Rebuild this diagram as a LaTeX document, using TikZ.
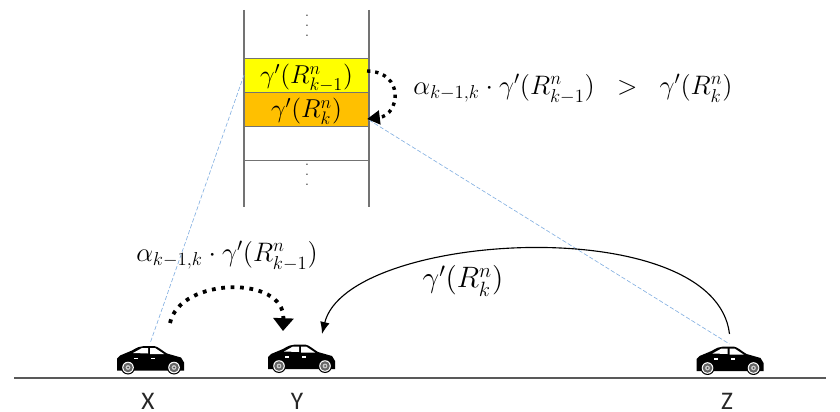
\documentclass[tikz,border=0pt]{standalone}
\usepackage{amsmath,amssymb}
\usepackage{xcolor}
\usepackage{fontspec}
\setsansfont{Carlito}
\usetikzlibrary{positioning,arrows.meta,calc}
\DeclareFontFamily{OML}{cmm}{\skewchar\font'177}
\DeclareFontShape{OML}{cmm}{m}{it}{<->cmmi12}{}
\DeclareFontFamily{OMS}{cmsy}{\skewchar\font'60}
\DeclareFontShape{OMS}{cmsy}{m}{n}{<->cmsy10}{}
\DeclareFontFamily{OT1}{cmr}{\hyphenchar\font45}
\DeclareFontShape{OT1}{cmr}{m}{n}{<->cmr12}{}
\definecolor{rowyellow}{RGB}{255,255,0}
\definecolor{roworange}{RGB}{255,192,0}
\definecolor{linkblue}{RGB}{130,175,225}
\tikzset{
rowbox/.style={
draw=black!55,
minimum width=3.125cm,
minimum height=0.85cm,
text height=0.585cm,
text depth=0.165cm,
inner sep=0pt,
outer sep=0pt,
font=\fontsize{18.4}{20}\selectfont
},
railline/.style={
draw=black!55,
line width=0.8pt
},
stackdots/.style={
font=\fontsize{10}{7.1}\selectfont,
align=center,
inner sep=0pt,
text=black!80
},
carbox/.style={
minimum width=1.675cm,
minimum height=0.75cm,
inner sep=0pt,
outer sep=0pt
},
formula/.style={
font=\fontsize{19}{22}\selectfont,
inner sep=0pt
},
carlabel/.style={
font=\sffamily\fontsize{18}{20}\selectfont,
inner sep=0pt,
text=black!85
},
link/.style={
draw=linkblue,
dash pattern=on 3pt off 1.5pt,
line width=0.45pt
},
hoparrow/.style={
-{Triangle[length=3.2mm,width=5mm]},
line width=2.7pt,
dash pattern=on 2.7pt off 4pt
},
stackarrow/.style={
-{Triangle[length=3.2mm,width=3.4mm]},
line width=2.4pt,
dash pattern=on 2.4pt off 3.4pt
},
farrow/.style={
-{Latex[length=3mm,width=2.4mm]},
line width=0.8pt
},
car/.pic={
\fill[black] (-18,-8) .. controls (-13,-11) and (-10,-12.5) .. (-6,-12.5) -- (4,-12.5)
.. controls (8,-12) and (12,-8) .. (17,-5) -- (31,-1) -- (34,4) -- (34,12)
-- (-33,12) -- (-33,0) -- (-30,-3) -- cycle;
\fill[white] (-17,-5.5) -- (-8,-10.5) -- (-2,-10.5) -- (-2,-5) -- cycle;
\fill[white] (0,-10.5) -- (5,-10.5) -- (14,-4.5) -- (0,-4.5) -- cycle;
\fill[white] (-16,-1) rectangle (-12,0.5);
\fill[white] (1,-1) rectangle (5,0.5);
\foreach \w in {-22,24}{
\fill[black] (\w,9) circle (7);
\fill[white] (\w,9) circle (5.8);
\fill[black!60] (\w,9) circle (4.8);
\fill[black!20] (\w,9) circle (2.4);
\fill[black!70] (\w,9) circle (1);
}
}
}
\begin{document}
\begin{tikzpicture}[x=0.025cm,y=-0.025cm]
\useasboundingbox (0,0) rectangle (840,412);

% stack
\node[rowbox,fill=rowyellow,anchor=north west](rowa) at (244,58){$\gamma'(R^{n}_{k-1})$};
\node[rowbox,fill=roworange,below=0pt of rowa](rowb){$\gamma'(R^{n}_{k})$};
\node[rowbox,below=0pt of rowb](rowc){};
\coordinate (raillt) at (244,10);
\coordinate (railrt) at (369,10);
\coordinate (raillb) at (244,207);
\coordinate (railrb) at (369,207);
\draw[railline](raillt)--(raillb);
\draw[railline](railrt)--(railrb);
\node[stackdots](dotsa) at (307,26){.\\.\\.};
\node[stackdots](dotsb) at (307,175){.\\.\\.};

% road and cars
\coordinate (roadl) at (14,378);
\coordinate (roadr) at (826,378);
\draw[draw=black!65,line width=0.8pt](roadl)--(roadr);
\node[carbox](carx) at (150,358.5){};
\node[carbox](cary) at (301,357){};
\node[carbox](carz) at (729.5,359){};
\foreach \c in {carx,cary,carz}
\pic at (\c) {car};
\node[carlabel](labx) at (148,401){X};
\node[carlabel](laby) at (297,401){Y};
\node[carlabel](labz) at (727,401){Z};

% formulas
\node[formula](ineq) at (573,89){$\alpha_{k-1,k}\cdot\gamma'(R^{n}_{k-1})\;\;>\;\;\gamma'(R^{n}_{k})$};
\node[formula](hopx) at (227,256){$\alpha_{k-1,k}\cdot\gamma'(R^{n}_{k-1})$};
\node[formula,font=\fontsize{21}{22}\selectfont](hopz) at (463,281){$\gamma'(R^{n}_{k})$};

% connectors
\draw[link](rowa.west)--(carx.north);
\draw[link]($(rowb.south east)+(0,-6)$)--(carz.north);
\coordinate (hopxs) at (170,323);
\coordinate (hopxe) at (283,331);
\coordinate (farz) at (322,334);
\draw[hoparrow](hopxs) .. controls (180,277) and (285,275) .. (hopxe);
\draw[farrow]($(carz.north)+(0,-10)$) .. controls (715,210) and (347,231) .. (farz);
\draw[stackarrow]($(rowa.east)+(-2,-4)$) .. controls (405,72) and (400,115) .. ($(rowb.south east)+(-2,-7)$);
\end{tikzpicture}
\end{document}
